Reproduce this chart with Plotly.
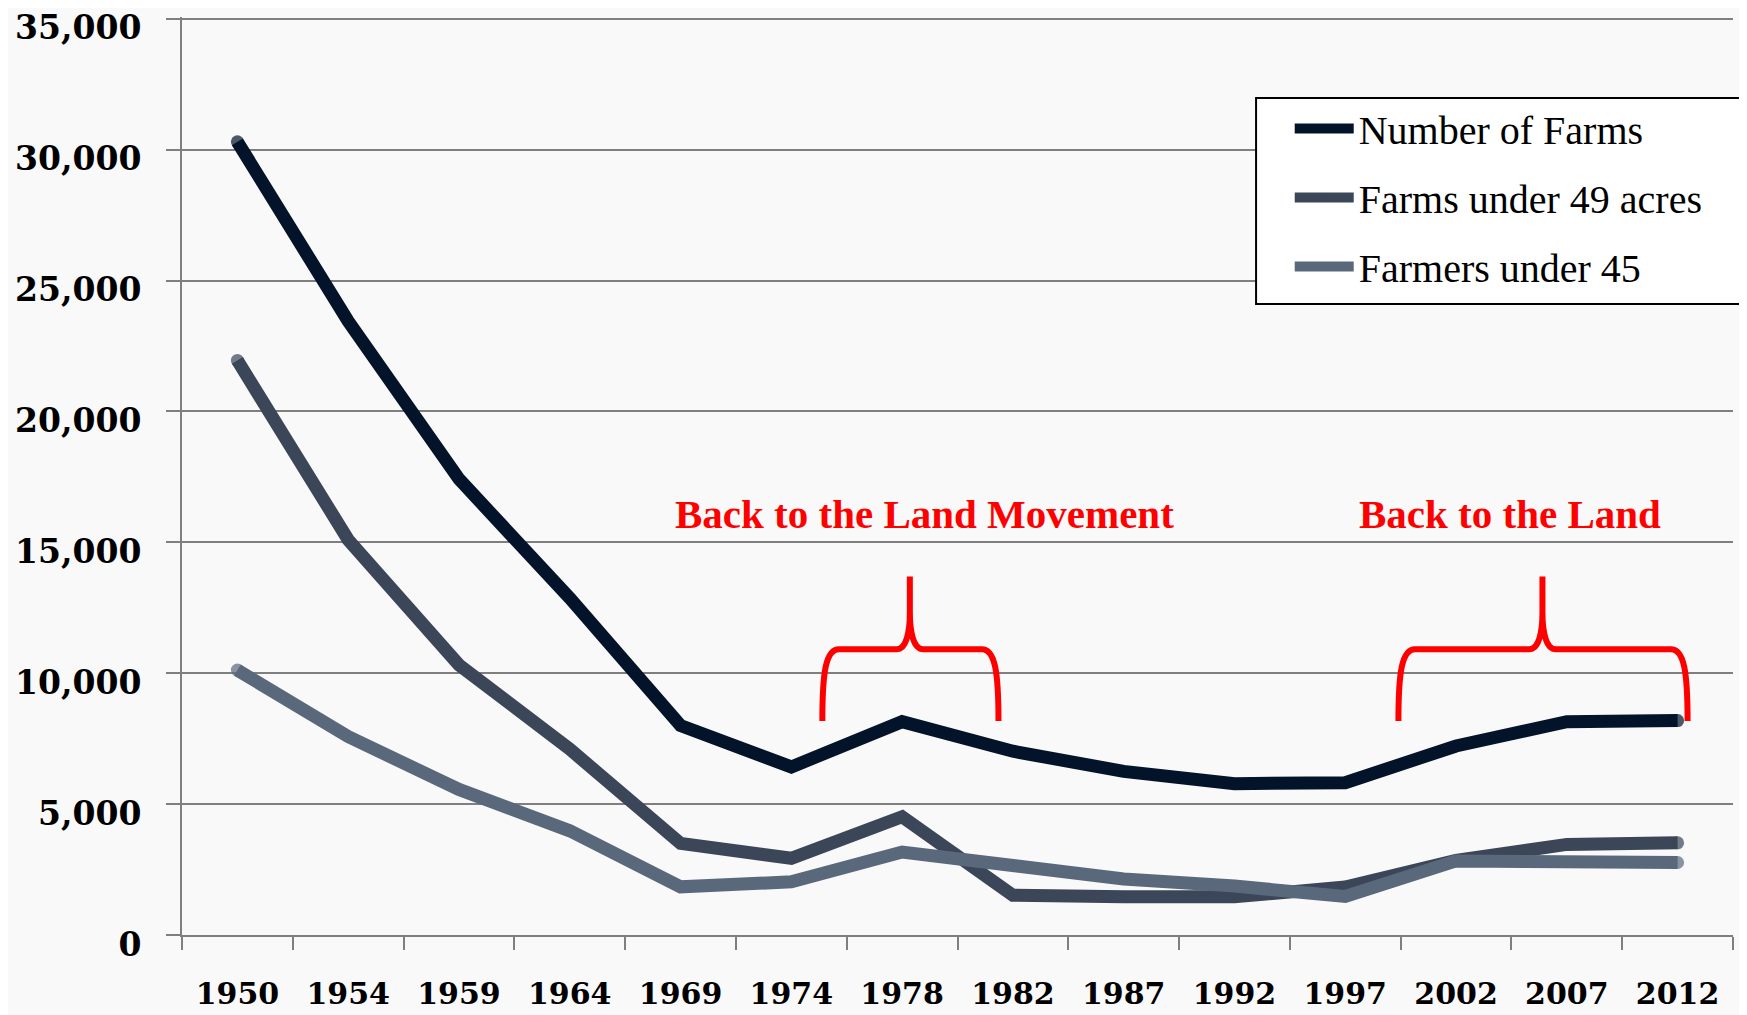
import plotly.graph_objects as go

years = ["1950", "1954", "1959", "1964", "1969", "1974", "1978", "1982",
         "1987", "1992", "1997", "2002", "2007", "2012"]
number_of_farms = [30300, 23450, 17420, 12870, 8000, 6420, 8150, 7020,
                   6250, 5780, 5820, 7220, 8150, 8190]
farms_under_49 = [21950, 15100, 10320, 7100, 3500, 2930, 4520, 1520,
                  1460, 1460, 1830, 2850, 3460, 3520]
farmers_under_45 = [10120, 7580, 5560, 3980, 1840, 2030, 3170, 2700,
                    2140, 1870, 1470, 2830, 2800, 2770]
y_ticks = [0, 5000, 10000, 15000, 20000, 25000, 30000, 35000]

series_names = ["Number of Farms", "Farms under 49 acres", "Farmers under 45"]
series_colors = ["#03142A", "#3B4658", "#5A687C"]
series_values = [number_of_farms, farms_under_49, farmers_under_45]

brace_labels = ["Back to the Land Movement", "Back to the Land"]
label_x = [6.2, 11.49]
# brace extents in category-index units and y levels (value units)
brace_x = [(5.28, 6.07, 6.87), (10.48, 11.78, 13.09)]
brace_y = (8180, 10920, 13700)
label_y = 16100

xi = list(range(len(years)))
LW = 13

fig = go.Figure()
for i, (name, col, vals) in enumerate(zip(series_names, series_colors, series_values)):
    sizes = [LW] + [0] * (len(vals) - 2) + [LW]
    fig.add_trace(go.Scatter(
        x=xi, y=vals, name=name, mode="lines+markers",
        line=dict(color=col, width=LW),
        marker=dict(color=col, size=sizes, line=dict(width=0)),
        legendgroup=f"g{i}",
    ))

shapes = []
annotations = []
yB, yH, yT = brace_y
for (xL, xC, xR) in brace_x:
    dy = yT - yH
    path = (
        f"M {xL},{yB} C {xL},{yH - 900} {xL + 0.03},{yH} {xL + 0.15},{yH} "
        f"L {xC - 0.12},{yH} "
        f"C {xC - 0.03},{yH} {xC},{yH + 0.25 * dy} {xC},{yH + 0.5 * dy} "
        f"L {xC},{yT} "
        f"M {xC},{yH + 0.5 * dy} "
        f"C {xC},{yH + 0.25 * dy} {xC + 0.03},{yH} {xC + 0.12},{yH} "
        f"L {xR - 0.15},{yH} "
        f"C {xR - 0.03},{yH} {xR},{yH - 900} {xR},{yB}"
    )
    shapes.append(dict(type="path", path=path, xref="x", yref="y",
                       line=dict(color="#FF0000", width=6)))

for lx, lab in zip(label_x, brace_labels):
    annotations.append(dict(x=lx, y=label_y, xref="x", yref="y",
                            text=f"<b>{lab}</b>", showarrow=False,
                            font=dict(family="Liberation Serif", size=41, color="#FF0000")))

# legend frame (paper coordinates)
TOP, BOTTOM = 9, 80
PLOT_H = 1007 - TOP - BOTTOM
def py(v_px_from_bottom):
    return v_px_from_bottom / PLOT_H

shapes.append(dict(type="rect", xref="paper", yref="paper",
                   x0=0.6925, x1=1.0084, y0=py(631), y1=py(837),
                   fillcolor="#FFFFFF", line=dict(color="#000000", width=2),
                   layer="above"))

fig.update_layout(
    width=1739, height=1007,
    margin=dict(l=174, r=14, t=TOP, b=BOTTOM),
    paper_bgcolor="#F9F9F9", plot_bgcolor="#F9F9F9",
    shapes=shapes, annotations=annotations,
    showlegend=True,
    legend=dict(
        x=0.7142, y=py(839), xanchor="left", yanchor="top",
        bgcolor="rgba(0,0,0,0)", borderwidth=0,
        font=dict(family="Liberation Serif", size=40, color="#000000"),
        itemwidth=59, tracegroupgap=14,
    ),
    xaxis=dict(
        range=[-0.5, 13.5], tickmode="array", tickvals=xi, ticktext=years,
        ticks="", showgrid=False, zeroline=False, automargin=False,
        showline=True, linecolor="#7F7F7F", linewidth=2,
        tickfont=dict(family="DejaVu Serif", size=30, color="#000000", weight="bold"),
        ticklabelstandoff=31,
        minor=dict(tickmode="array", tickvals=[v - 0.5 for v in range(len(years) + 1)],
                   ticks="outside", ticklen=13, tickwidth=2, tickcolor="#7F7F7F",
                   showgrid=False),
    ),
    yaxis=dict(
        range=[0, 35070], tickmode="array", tickvals=y_ticks,
        tickformat=",", showgrid=True, gridcolor="#7F7F7F", gridwidth=2,
        zeroline=False, showline=True, linecolor="#7F7F7F", linewidth=2,
        automargin=False, ticklabeloverflow="allow",
        ticks="outside", ticklen=14, tickwidth=2, tickcolor="#7F7F7F",
        tickfont=dict(family="DejaVu Serif", size=33, color="#000000", weight="bold"),
        ticklabelstandoff=18, ticklabelshift=9,
    ),
)

fig.write_html("out.html")
